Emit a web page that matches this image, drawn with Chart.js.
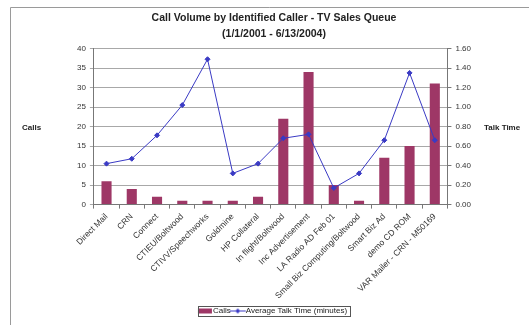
<!DOCTYPE html>
<html>
<head>
<meta charset="utf-8">
<script src="https://cdn.jsdelivr.net/npm/chart.js@4"></script>
<style>
  html, body { margin: 0; padding: 0; background: #fff; }
  #wrap { position: relative; width: 529px; height: 325px; }
</style>
</head>
<body>
<div id="wrap"><canvas id="callChart" width="529" height="325"></canvas></div>
<script>
// ----------------------------------------------------
// Data
// ----------------------------------------------------
const callers = [
    'Direct Mail', 'CRN', 'Connect', 'CTIEU/Boltwood', 'CTIVV/Speechworks',
    'Goldmine', 'HP Collateral', 'In flight/Boltwood', 'Inc Advertisement',
    'LA Radio AD Feb 01', 'Small Biz Computing/Boltwood', 'Smart Biz Ad',
    'demo CD ROM', 'VAR Mailer - CRN - M50169'
];
const calls = [6, 4, 2, 1, 1, 1, 2, 22, 34, 5, 1, 12, 15, 31];
const talkTime = [0.42, 0.47, 0.71, 1.02, 1.49, 0.32, 0.42, 0.68, 0.72, 0.17, 0.32, 0.66, 1.35, 0.66];
const titleLines = ['Call Volume by Identified Caller - TV Sales Queue', '(1/1/2001 - 6/13/2004)'];

const BAR = '#9e3766';
const LINE = '#3a3ac4';
const FONT = "'Liberation Sans', Arial, sans-serif";

// legend swatches
function makeSwatch(kind) {
    const c = document.createElement('canvas');
    c.width = 18; c.height = 7;
    const g = c.getContext('2d');
    if (kind === 'bar') {
        g.fillStyle = BAR;
        g.fillRect(2, 1, 14, 5);
    } else {
        g.strokeStyle = LINE; g.lineWidth = 1;
        g.beginPath(); g.moveTo(1, 3.5); g.lineTo(17, 3.5); g.stroke();
        g.fillStyle = LINE;
        g.beginPath(); g.moveTo(9, 1); g.lineTo(11.5, 3.5); g.lineTo(9, 6); g.lineTo(6.5, 3.5); g.closePath(); g.fill();
    }
    return c;
}

// frame, axis titles, legend border
const decorations = {
    id: 'decorations',
    afterDraw(chart) {
        const ctx = chart.ctx;
        const area = chart.chartArea;
        ctx.save();
        ctx.strokeStyle = '#9a9a9a';
        ctx.lineWidth = 1;
        ctx.beginPath();
        ctx.moveTo(10.5, 325); ctx.lineTo(10.5, 7.5); ctx.lineTo(529, 7.5);
        ctx.stroke();

        ctx.fillStyle = '#222';
        ctx.font = 'bold 8px ' + FONT;
        ctx.textBaseline = 'middle';
        const midY = (area.top + area.bottom) / 2 + 1;
        ctx.textAlign = 'left';
        ctx.fillText('Calls', 22, midY);
        ctx.fillText('Talk Time', 484, midY);

        const lg = chart.legend;
        if (lg && lg.legendHitBoxes.length) {
            const boxes = lg.legendHitBoxes;
            const l = Math.min(...boxes.map(b => b.left)) - 3;
            const r = Math.max(...boxes.map(b => b.left + b.width)) + 3;
            const t = Math.min(...boxes.map(b => b.top)) - 1;
            const btm = Math.max(...boxes.map(b => b.top + b.height)) + 1;
            ctx.strokeStyle = '#555';
            ctx.strokeRect(Math.round(l) + 0.5, Math.round(t) + 0.5, Math.round(r - l), Math.round(btm - t));
        }
        ctx.restore();
    }
};

const ctxCall = document.getElementById('callChart').getContext('2d');
new Chart(ctxCall, {
    type: 'bar',
    data: {
        labels: callers,
        datasets: [{
            type: 'bar',
            label: 'Calls',
            data: calls,
            backgroundColor: BAR,
            barPercentage: 0.4,
            categoryPercentage: 1.0,
            yAxisID: 'y',
            order: 2
        }, {
            type: 'line',
            label: 'Average Talk Time (minutes)',
            data: talkTime,
            borderColor: LINE,
            backgroundColor: LINE,
            borderWidth: 1,
            pointStyle: 'rectRot',
            pointRadius: 2.5,
            tension: 0,
            yAxisID: 'y1',
            order: 1
        }]
    },
    options: {
        responsive: false,
        animation: false,
        layout: { padding: { left: 73, right: 54, top: 0, bottom: 0 } },
        plugins: {
            title: {
                display: true,
                text: titleLines,
                color: '#222',
                font: { family: FONT, size: 10.5, weight: 'bold', lineHeight: 1.5 },
                padding: { top: 10, bottom: 7 }
            },
            legend: {
                position: 'bottom',
                labels: {
                    usePointStyle: true,
                    color: '#222',
                    font: { family: FONT, size: 8 },
                    padding: 3,
                    generateLabels(chart) {
                        return chart.data.datasets.map((ds, i) => ({
                            text: ds.label,
                            pointStyle: makeSwatch(ds.type),
                            fontColor: '#222',
                            datasetIndex: i,
                            hidden: false,
                            lineWidth: 0
                        }));
                    }
                }
            },
            tooltip: { enabled: false }
        },
        scales: {
            x: {
                offset: true,
                grid: { display: true, offset: true, drawOnChartArea: false, color: '#777', tickLength: 4 },
                border: { color: '#777' },
                ticks: {
                    minRotation: 45, maxRotation: 45, autoSkip: false,
                    color: '#333', font: { family: FONT, size: 8.5 }, padding: 3
                }
            },
            y: {
                position: 'left',
                min: 0, max: 40,
                ticks: { stepSize: 5, color: '#333', font: { family: FONT, size: 8 }, padding: 4 },
                grid: { color: '#a8a8a8', tickLength: 4 },
                border: { color: '#777' }
            },
            y1: {
                position: 'right',
                min: 0, max: 1.6,
                ticks: {
                    stepSize: 0.2, color: '#333', font: { family: FONT, size: 8 }, padding: 4,
                    callback: v => v.toFixed(2)
                },
                grid: { drawOnChartArea: false, color: '#777', tickLength: 4 },
                border: { color: '#777' }
            }
        }
    },
    plugins: [decorations]
});
</script>
</body>
</html>
